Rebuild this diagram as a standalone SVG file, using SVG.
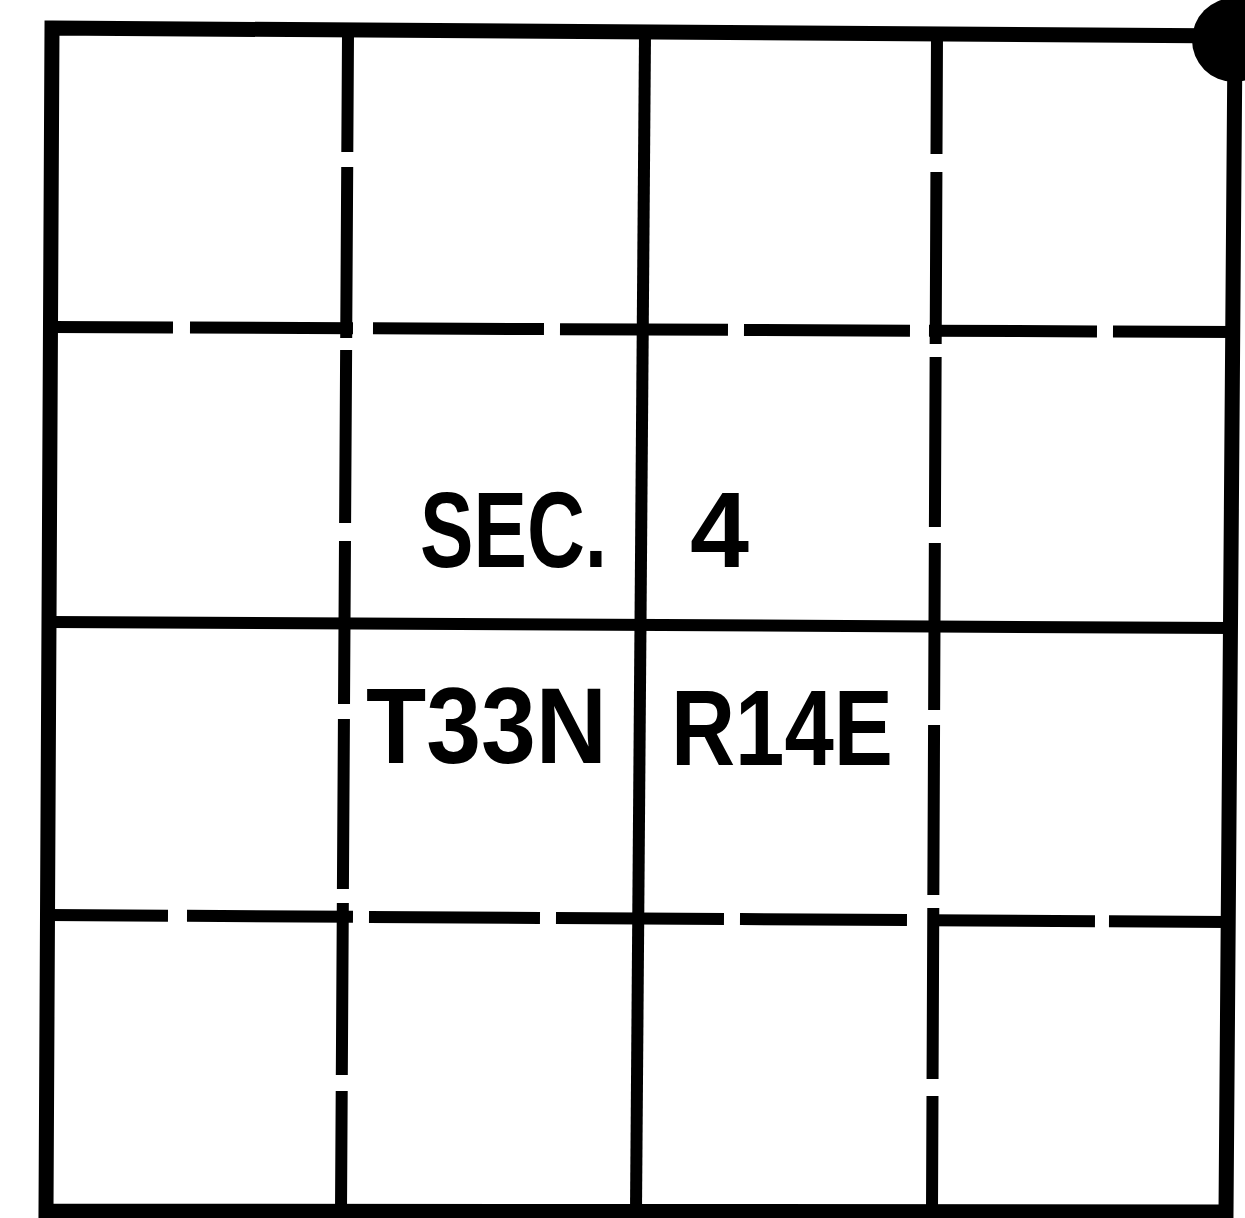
<svg xmlns="http://www.w3.org/2000/svg" width="1245" height="1218" viewBox="0 0 1245 1218">
  <style>
    .frame { fill: none; stroke: #000; stroke-width: 15; stroke-linejoin: miter; }
    .solid { stroke: #000; stroke-width: 12; fill: none; }
    .dash { stroke: #000; stroke-width: 12; fill: none; stroke-linecap: butt; }
    .lbl { font-family: "Liberation Sans", Arial, sans-serif; font-weight: bold; font-size: 108px; fill: #000; }
  </style>
  <rect width="1245" height="1218" fill="#fff"/>
  <g id="section-grid">
    <line class="dash" x1="348" y1="35" x2="341" y2="1211" stroke-dasharray="117 15 171 12 173 18 163 15 170 14 172 16 130"/>
    <line class="dash" x1="937" y1="35" x2="932" y2="1211" stroke-dasharray="119 18 172 13 170 16 167 15 170 13 171 17 125"/>
    <line class="dash" x1="52" y1="327" x2="1235" y2="332" stroke-dasharray="121 17 163 20 171 16 168 16 166 19 168 16 130"/>
    <line class="dash" x1="48" y1="915" x2="1227" y2="922" stroke-dasharray="120 19 166 16 171 16 168 16 167 22 166 14 125"/>
    <line class="solid" x1="645" y1="35" x2="636" y2="1211"/>
    <line class="solid" x1="52" y1="622" x2="1232" y2="628"/>
    <polygon class="frame" points="52,28 1235,36 1226,1212 46,1211"/>
    <circle cx="1234" cy="40" r="42" fill="#000"/>
  </g>
  <g id="labels">
    <text class="lbl" x="420" y="567" textLength="187" lengthAdjust="spacingAndGlyphs">SEC.</text>
    <text class="lbl" x="690" y="567" textLength="59" lengthAdjust="spacingAndGlyphs">4</text>
    <text class="lbl" x="366" y="763" textLength="241" lengthAdjust="spacingAndGlyphs">T33N</text>
    <text class="lbl" x="671" y="765" textLength="222" lengthAdjust="spacingAndGlyphs">R14E</text>
  </g>
</svg>
